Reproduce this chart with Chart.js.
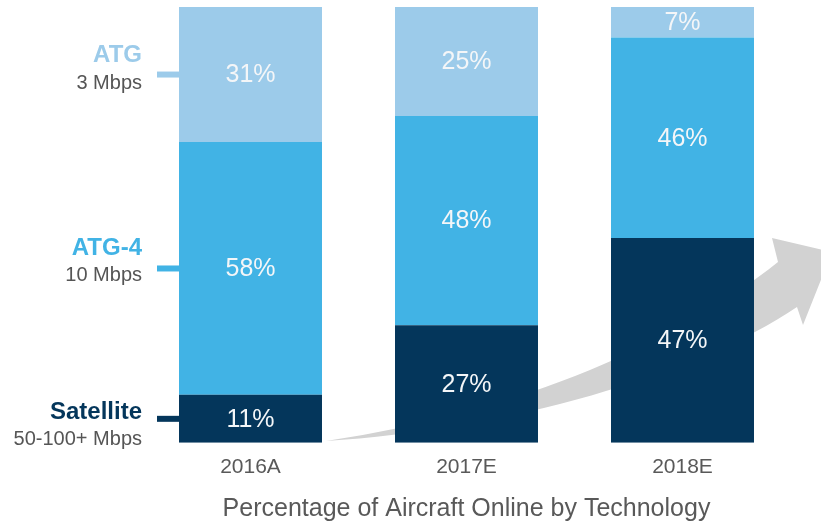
<!DOCTYPE html>
<html>
<head>
<meta charset="utf-8">
<title>Aircraft Online by Technology</title>
<script src="https://cdn.jsdelivr.net/npm/chart.js@4.4.1/dist/chart.umd.min.js"></script>
<style>
  html, body { margin: 0; padding: 0; background: #fff; }
  #wrap { width: 821px; height: 530px; position: relative; }
</style>
</head>
<body>
<div id="wrap"><canvas id="techChart"></canvas></div>
<script>
const FONT = '"Liberation Sans", Arial, Helvetica, sans-serif';

// share of aircraft online, by technology (%)
const categories = ['2016A', '2017E', '2018E'];
const satellite = [11, 27, 47];
const atg4 = [58, 48, 46];
const atg = [31, 25, 7];

const seriesNames = ['Satellite', 'ATG-4', 'ATG'];
const seriesSpeeds = ['50-100+ Mbps', '10 Mbps', '3 Mbps'];
const xTitle = 'Percentage of Aircraft Online by Technology';

const colors = ['#04365B', '#41B3E5', '#9CCBEA'];
// vertical offsets of the name / speed lines from the side marker
const sideOffsets = [[-6, 21], [-20, 7], [-19, 9]];

// grey swoosh arrow behind the bars
const trendArrow = {
  id: 'trendArrow',
  beforeDatasetsDraw(chart) {
    const ctx = chart.ctx;
    ctx.save();
    ctx.fillStyle = '#D2D2D2';
    ctx.beginPath();
    ctx.moveTo(326, 441);
    ctx.bezierCurveTo(526, 411, 678, 342, 778, 262);
    ctx.lineTo(772, 238);
    ctx.lineTo(832, 252);
    ctx.lineTo(803, 325);
    ctx.lineTo(797, 307);
    ctx.bezierCurveTo(697, 375, 506, 430, 326, 441);
    ctx.closePath();
    ctx.fill();
    ctx.restore();
  }
};

// percentage text inside every segment
const segmentLabels = {
  id: 'segmentLabels',
  afterDatasetsDraw(chart) {
    const ctx = chart.ctx;
    ctx.save();
    ctx.font = '25px ' + FONT;
    ctx.fillStyle = '#F4F6F8';
    ctx.textAlign = 'center';
    ctx.textBaseline = 'middle';
    chart.data.datasets.forEach((ds, i) => {
      chart.getDatasetMeta(i).data.forEach((bar, j) => {
        const p = bar.getProps(['x', 'y', 'base'], true);
        ctx.fillText(ds.data[j] + '%', p.x, (p.y + p.base) / 2 + 1);
      });
    });
    ctx.restore();
  }
};

// technology names on the left, tied to the first bar's segments
const sideLegend = {
  id: 'sideLegend',
  afterDatasetsDraw(chart) {
    const ctx = chart.ctx;
    ctx.save();
    chart.data.datasets.forEach((ds, i) => {
      const bar = chart.getDatasetMeta(i).data[0];
      const p = bar.getProps(['x', 'y', 'base', 'width'], true);
      const left = p.x - p.width / 2;
      const midY = (p.y + p.base) / 2;

      ctx.strokeStyle = colors[i];
      ctx.lineWidth = 6;
      ctx.beginPath();
      ctx.moveTo(left - 22, midY);
      ctx.lineTo(left, midY);
      ctx.stroke();

      ctx.textAlign = 'right';
      ctx.textBaseline = 'middle';
      ctx.fillStyle = colors[i];
      ctx.font = 'bold 24px ' + FONT;
      ctx.fillText(seriesNames[i], 142, midY + sideOffsets[i][0]);
      ctx.fillStyle = '#555555';
      ctx.font = '20px ' + FONT;
      ctx.fillText(seriesSpeeds[i], 142, midY + sideOffsets[i][1]);
    });
    ctx.restore();
  }
};

new Chart(document.getElementById('techChart'), {
  type: 'bar',
  data: {
    labels: categories,
    datasets: [
      { label: seriesNames[0], data: satellite, backgroundColor: colors[0] },
      { label: seriesNames[1], data: atg4, backgroundColor: colors[1] },
      { label: seriesNames[2], data: atg, backgroundColor: colors[2] }
    ]
  },
  options: {
    responsive: true,
    maintainAspectRatio: false,
    animation: false,
    datasets: {
      bar: { categoryPercentage: 1, barPercentage: 0.662, borderWidth: 0 }
    },
    layout: { padding: { left: 142.5, right: 30.5, top: 7, bottom: 2 } },
    plugins: {
      legend: { display: false },
      tooltip: { enabled: false }
    },
    scales: {
      x: {
        stacked: true,
        grid: { display: false, drawTicks: false },
        border: { display: false },
        ticks: { color: '#595959', font: { family: FONT, size: 21 }, padding: 12 },
        title: {
          display: true,
          text: xTitle,
          color: '#595959',
          font: { family: FONT, size: 25 },
          padding: { top: 2, bottom: 4 }
        }
      },
      y: {
        stacked: true,
        display: false,
        min: 0,
        max: 100
      }
    }
  },
  plugins: [trendArrow, segmentLabels, sideLegend]
});
</script>
</body>
</html>
